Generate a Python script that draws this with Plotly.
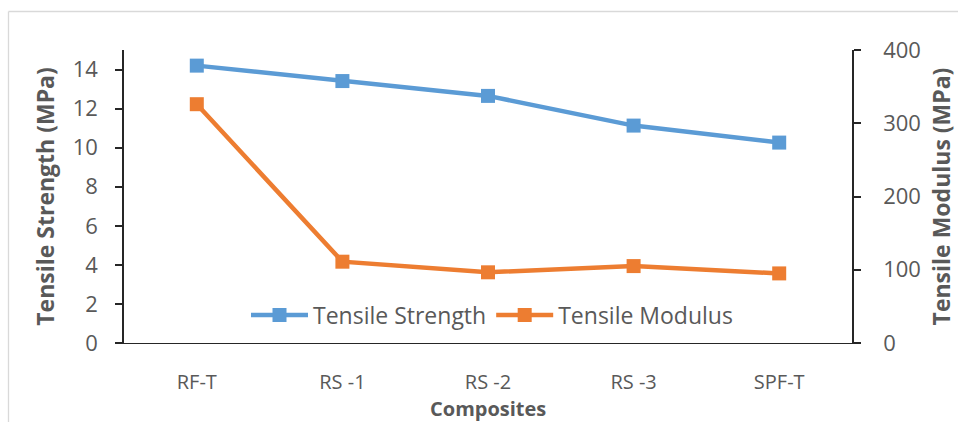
import plotly.graph_objects as go

# Composite samples and measured tensile properties
composites = ["RF-T", "RS -1", "RS -2", "RS -3", "SPF-T"]
tensile_strength = [14.2, 13.41, 12.65, 11.13, 10.26]   # MPa
tensile_modulus = [326, 111, 96.5, 105, 95]              # MPa

strength_ticks = [0, 2, 4, 6, 8, 10, 12, 14]
modulus_ticks = [0, 100, 200, 300, 400]

BLUE = "#5b9bd5"
ORANGE = "#ed7d31"
TEXT = "#595959"
AXIS = "#262626"
FONT = "Open Sans"

fig = go.Figure()

fig.add_trace(go.Scatter(
    x=composites, y=tensile_strength, name="Tensile Strength",
    mode="lines+markers",
    line=dict(color=BLUE, width=4.5),
    marker=dict(symbol="square", size=14, color=BLUE),
    yaxis="y",
))
fig.add_trace(go.Scatter(
    x=composites, y=tensile_modulus, name="Tensile Modulus",
    mode="lines+markers",
    line=dict(color=ORANGE, width=4.5),
    marker=dict(symbol="square", size=14, color=ORANGE),
    yaxis="y2",
))

W, H = 958, 422
L, R, T, B = 124, 106, 50, 79
pw, ph = W - L - R, H - T - B

def px_x(x):
    return (x - L) / pw

def px_y(y):
    return (H - B - y) / ph

fig.update_layout(
    width=W, height=H,
    margin=dict(l=L, r=R, t=T, b=B, pad=0, autoexpand=False),
    paper_bgcolor="white", plot_bgcolor="white",
    font=dict(family=FONT, color=TEXT, size=18),
    showlegend=True,
    legend=dict(
        orientation="h",
        x=px_x(246), y=px_y(315), xanchor="left", yanchor="middle",
        bgcolor="rgba(0,0,0,0)",
        font=dict(size=23, color=TEXT, family=FONT),
        itemwidth=57,
        tracegroupgap=0,
    ),
    xaxis=dict(
        type="category", automargin=False,
        range=[-0.5, len(composites) - 0.5],
        showline=True, linecolor=AXIS, linewidth=1.3,
        showgrid=False, zeroline=False,
        ticks="", ticklabelstandoff=21,
        tickfont=dict(size=20, color=TEXT, family=FONT),
    ),
    yaxis=dict(
        range=[0, 15], automargin=False,
        tickvals=strength_ticks,
        showline=True, linecolor=AXIS, linewidth=1.5,
        ticks="outside", ticklen=7, tickcolor=AXIS, tickwidth=1.5,
        ticklabelstandoff=13,
        showgrid=False, zeroline=False,
        tickfont=dict(size=22, color=TEXT, family=FONT),
        title=dict(text="<b>Tensile Strength (MPa)</b>", standoff=12,
                   font=dict(size=23, color=TEXT, family=FONT)),
    ),
    yaxis2=dict(
        range=[0, 400], automargin=False,
        tickvals=modulus_ticks,
        overlaying="y", side="right",
        showline=True, linecolor=AXIS, linewidth=1.5,
        ticks="outside", ticklen=7, tickcolor=AXIS, tickwidth=1.5,
        ticklabelstandoff=18,
        showgrid=False, zeroline=False,
        tickfont=dict(size=22, color=TEXT, family=FONT),
        title=dict(text="<b>Tensile Modulus (MPa)</b>", standoff=14,
                   font=dict(size=23, color=TEXT, family=FONT)),
    ),
    annotations=[
        # x-axis title, set tight under the category labels
        dict(text="<b>Composites</b>", xref="paper", yref="paper",
             x=0.5, y=px_y(408), xanchor="center", yanchor="middle",
             showarrow=False, font=dict(size=20, color=TEXT, family=FONT)),
    ],
    shapes=[
        # light frame around the chart area (top and left edges)
        dict(type="line", xref="paper", yref="paper",
             x0=px_x(8.5), x1=px_x(W + 2), y0=px_y(11.5), y1=px_y(11.5),
             line=dict(color="#d9d9d9", width=1.3)),
        dict(type="line", xref="paper", yref="paper",
             x0=px_x(8.5), x1=px_x(8.5), y0=px_y(11.5), y1=px_y(H + 2),
             line=dict(color="#d9d9d9", width=1.3)),
    ],
)

fig.write_html("out.html")
